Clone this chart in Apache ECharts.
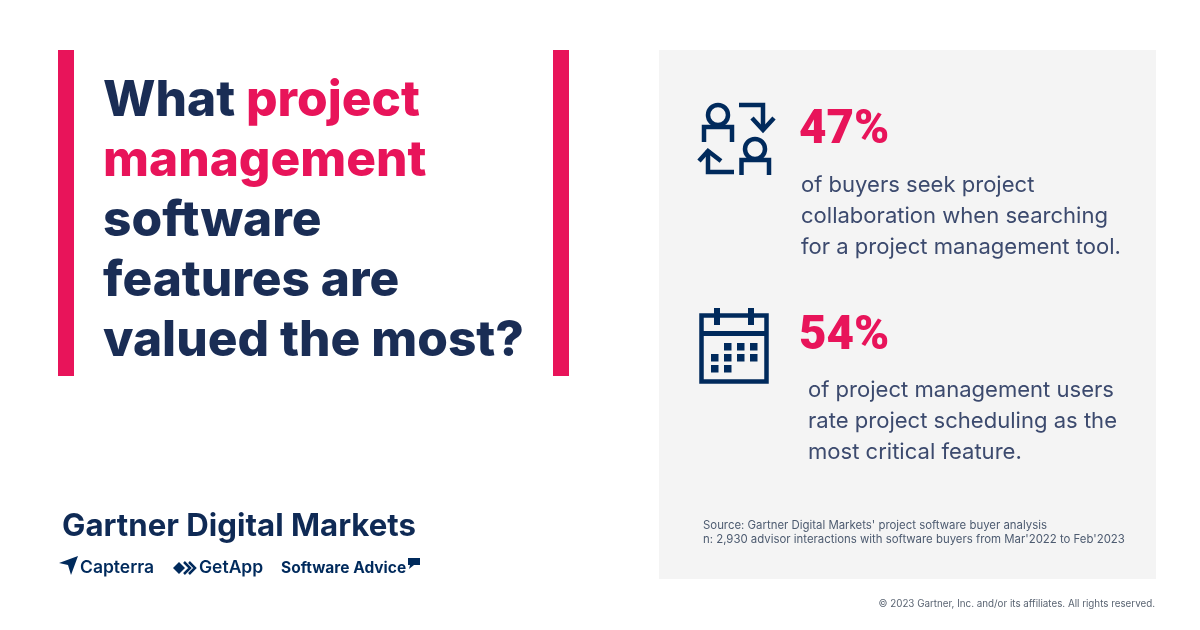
<!DOCTYPE html>
<html>
<head>
<meta charset="utf-8">
<style>
  html, body { margin: 0; padding: 0; background: #fff; }
  #main { width: 1200px; height: 630px; }
</style>
<script src="https://cdn.jsdelivr.net/npm/echarts@6/dist/echarts.min.js"></script>
</head>
<body>
<div id="main"></div>
<script>
// headline, one row per line: [text, highlighted]
const headlineLines = [
    [['What ', false], ['project', true]],
    [['management', true]],
    [['software', false]],
    [['features are', false]],
    [['valued the most?', false]]
];
const statValues = [47, 54];
const statCaptions = [
    ['of buyers seek project', 'collaboration when searching', 'for a project management tool.'],
    ['of project management users', 'rate project scheduling as the', 'most critical feature.']
];
const sourceLines = [
    "Source: Gartner Digital Markets' project software buyer analysis",
    "n: 2,930 advisor interactions with software buyers from Mar'2022 to Feb'2023"
];
const brandTitle = 'Gartner Digital Markets';
const brandNames = ['Capterra', 'GetApp', 'Software Advice'];
const copyright = '© 2023 Gartner, Inc. and/or its affiliates. All rights reserved.';

const NAVY = '#1a2d55';
const ICON = '#002a5c';
const PINK = '#e8145a';
const BODY = '#3c4a6e';
const FONT = 'Inter';

// y is the baseline; zrender draws from the middle of the line box
function text(x, y, str, size, weight, color, extra) {
    return {
        type: 'text',
        x: x,
        y: y - size * 0.36,
        style: Object.assign({
            text: str,
            fontFamily: FONT,
            fontSize: size,
            fontWeight: weight,
            fill: color,
            verticalAlign: 'middle'
        }, extra || {})
    };
}

function line(points, width, color) {
    return {
        type: 'polyline',
        shape: { points: points },
        style: { stroke: color || ICON, lineWidth: width || 4.5, fill: null, lineJoin: 'miter', lineCap: 'butt' }
    };
}

function box(x, y, w, h, color) {
    return { type: 'rect', shape: { x: x, y: y, width: w, height: h }, style: { fill: color } };
}

function ring(cx, cy, r) {
    return { type: 'circle', shape: { cx: cx, cy: cy, r: r }, style: { fill: null, stroke: ICON, lineWidth: 4.5 } };
}

function buildHeadline() {
    const items = [];
    headlineLines.forEach(function (parts, i) {
        const rich = {};
        let str = '';
        parts.forEach(function (p, j) {
            const key = 'p' + j;
            rich[key] = { fontFamily: FONT, fontSize: 49.6, fontWeight: 800, fill: p[1] ? PINK : NAVY };
            str += '{' + key + '|' + p[0] + '}';
        });
        items.push({
            type: 'text',
            x: 103,
            y: 101 + i * 60,
            style: { text: str, rich: rich, verticalAlign: 'middle' }
        });
    });
    return items;
}

function buildIcons() {
    const items = [
        // people swapping
        ring(718, 115, 10),
        line([[704, 142], [704, 127], [732, 127], [732, 142]]),
        line([[739, 105], [763, 105], [763, 129]]),
        line([[752, 118], [763, 130], [774, 118]]),
        ring(755, 149, 10),
        line([[741.5, 175], [741.5, 160], [769, 160], [769, 175]]),
        line([[734, 172], [708, 172], [708, 150]]),
        line([[699, 161], [708, 151], [721, 161]]),
        // calendar
        { type: 'rect', shape: { x: 701.5, y: 315.5, width: 65, height: 66 }, style: { fill: null, stroke: ICON, lineWidth: 4.5 } },
        box(701, 331, 66, 5, ICON),
        box(714, 308, 6, 17, ICON),
        box(748, 308, 6, 17, ICON)
    ];
    [[724, 343], [737, 343], [750, 343], [711, 354], [724, 354], [737, 354], [750, 354], [711, 365], [724, 365]].forEach(function (c) {
        items.push(box(c[0], c[1], 7.5, 7.5, ICON));
    });
    return items;
}

function buildBrands() {
    return [
        text(62, 538, brandTitle, 31.2, 700, '#0f2a55'),
        // capterra mark
        { type: 'polygon', shape: { points: [[59, 563], [78, 556], [71, 575], [68, 565]] }, style: { fill: ICON } },
        text(80, 574, brandNames[0], 17.5, 600, ICON),
        // getapp mark
        { type: 'polygon', shape: { points: [[173, 568], [179, 562], [185, 568], [179, 574]] }, style: { fill: ICON } },
        line([[184, 562], [190, 568], [184, 574]], 2.5),
        line([[189, 562], [195, 568], [189, 574]], 2.5),
        text(199, 574, brandNames[1], 17.5, 600, ICON),
        text(281, 574, brandNames[2], 15.5, 700, ICON),
        // software advice bubble
        { type: 'polygon', shape: { points: [[408, 558], [420, 558], [420, 565], [414, 565], [409, 569], [410, 565], [408, 565]] }, style: { fill: ICON } }
    ];
}

function buildStats() {
    const items = [];
    const statX = [799, 799];
    const statY = [148, 354];
    const capX = [801, 808];
    const capY = [193, 398];
    statValues.forEach(function (v, i) {
        items.push(text(statX[i], statY[i], v + '%', 47.5, 900, PINK, { fontFamily: 'Roboto' }));
        statCaptions[i].forEach(function (c, j) {
            items.push(text(capX[i], capY[i] + j * 31, c, 22.05, 400, BODY));
        });
    });
    return items;
}

const chart = echarts.init(document.getElementById('main'));
chart.setOption({
    backgroundColor: '#ffffff',
    animation: false,
    graphic: {
        elements: [
            box(58, 50, 16, 326, PINK),
            box(553, 50, 16, 326, PINK),
            box(659, 50, 497, 529, '#f4f4f4')
        ].concat(
            buildHeadline(),
            buildIcons(),
            buildStats(),
            buildBrands(),
            [
                text(703, 530, sourceLines[0], 11.4, 400, '#4d5b70'),
                text(703, 544, sourceLines[1], 11.4, 400, '#4d5b70'),
                text(1155, 608, copyright, 9.8, 400, '#5a6472', { align: 'right' })
            ]
        )
    }
});
</script>
</body>
</html>
